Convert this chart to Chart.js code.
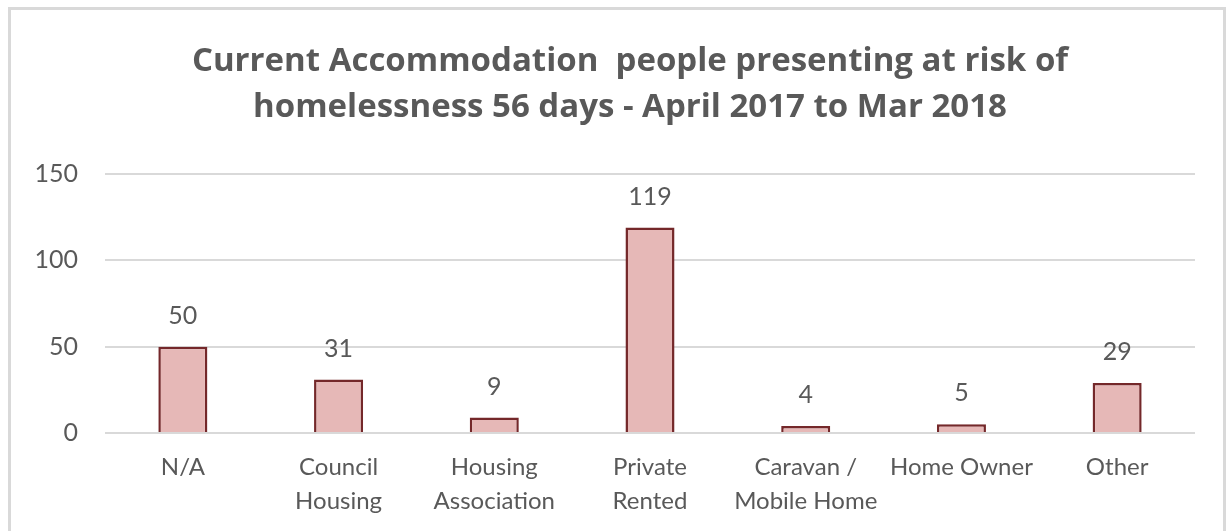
<!DOCTYPE html>
<html>
<head>
<meta charset="utf-8">
<script src="https://cdn.jsdelivr.net/npm/chart.js@4.4.0/dist/chart.umd.min.js"></script>
<style>
  body { margin: 0; background: #fff; }
  .frame { position: absolute; left: 8px; top: 7px; width: 1212px; height: 560px; border: 3px solid #d9d9d9; }
  canvas { position: absolute; left: 0; top: 0; }
</style>
</head>
<body>
<div class="frame"></div>
<canvas id="chart" width="1232" height="531"></canvas>
<script>
// categories on the x axis (two-line labels like the original)
const categories = [
    ["N/A"],
    ["Council", "Housing"],
    ["Housing", "Association"],
    ["Private", "Rented"],
    ["Caravan /", "Mobile Home"],
    ["Home Owner"],
    ["Other"]
];

// number of people per accommodation type
const people = [50, 31, 9, 119, 4, 5, 29];

const yTicks = [0, 50, 100, 150];

const titleLines = ['Current Accommodation  people presenting at risk of', 'homelessness 56 days - April 2017 to Mar 2018'];

const textColor = '#595959';
const fontFamily = 'Lato, "Open Sans", sans-serif';

// small plugin to write the value above each bar
const valueLabels = {
    id: 'valueLabels',
    afterDatasetsDraw(chart) {
        const ctx = chart.ctx;
        const meta = chart.getDatasetMeta(0);
        ctx.save();
        ctx.fillStyle = textColor;
        ctx.font = '25px ' + fontFamily;
        ctx.textAlign = 'center';
        ctx.textBaseline = 'middle';
        meta.data.forEach((bar, i) => {
            ctx.fillText(people[i], bar.x, bar.y - 31);
        });
        ctx.restore();
    }
};

// title is centred on the whole frame, not on the chart area, so draw it here
const frameTitle = {
    id: 'frameTitle',
    afterDraw(chart) {
        const ctx = chart.ctx;
        ctx.save();
        ctx.fillStyle = textColor;
        ctx.font = 'bold 33px "Open Sans", Lato, sans-serif';
        ctx.textAlign = 'center';
        ctx.textBaseline = 'middle';
        titleLines.forEach((line, i) => {
            ctx.fillText(line, 630, 62 + i * 46);
        });
        ctx.restore();
    }
};

const ctx = document.getElementById('chart').getContext('2d');
const chart = new Chart(ctx, {
    type: 'bar',
    data: {
        labels: categories,
        datasets: [{
            data: people,
            backgroundColor: '#e6b8b7',
            borderColor: '#74282a',
            borderWidth: 2.5,
            barPercentage: 0.315,
            categoryPercentage: 1
        }]
    },
    options: {
        responsive: false,
        animation: false,
        layout: {
            padding: { left: 0, right: 37, top: 174, bottom: 0 }
        },
        plugins: {
            legend: { display: false },
            tooltip: { enabled: false },
            title: { display: false }
        },
        scales: {
            x: {
                grid: { display: false },
                border: { display: false },
                ticks: {
                    color: textColor,
                    font: { family: fontFamily, size: 24, lineHeight: 1.42 },
                    padding: 9,
                    maxRotation: 0,
                    autoSkip: false
                },
                afterFit(scale) { scale.height = 98; }
            },
            y: {
                min: 0,
                max: 150,
                afterBuildTicks(scale) {
                    scale.ticks = yTicks.map(v => ({ value: v }));
                },
                grid: { color: '#d9d9d9', lineWidth: 2, drawTicks: false },
                border: { display: false },
                ticks: {
                    color: textColor,
                    font: { family: fontFamily, size: 25 },
                    padding: 27
                },
                afterFit(scale) { scale.width = 105; }
            }
        }
    },
    plugins: [valueLabels, frameTitle]
});
</script>
</body>
</html>
